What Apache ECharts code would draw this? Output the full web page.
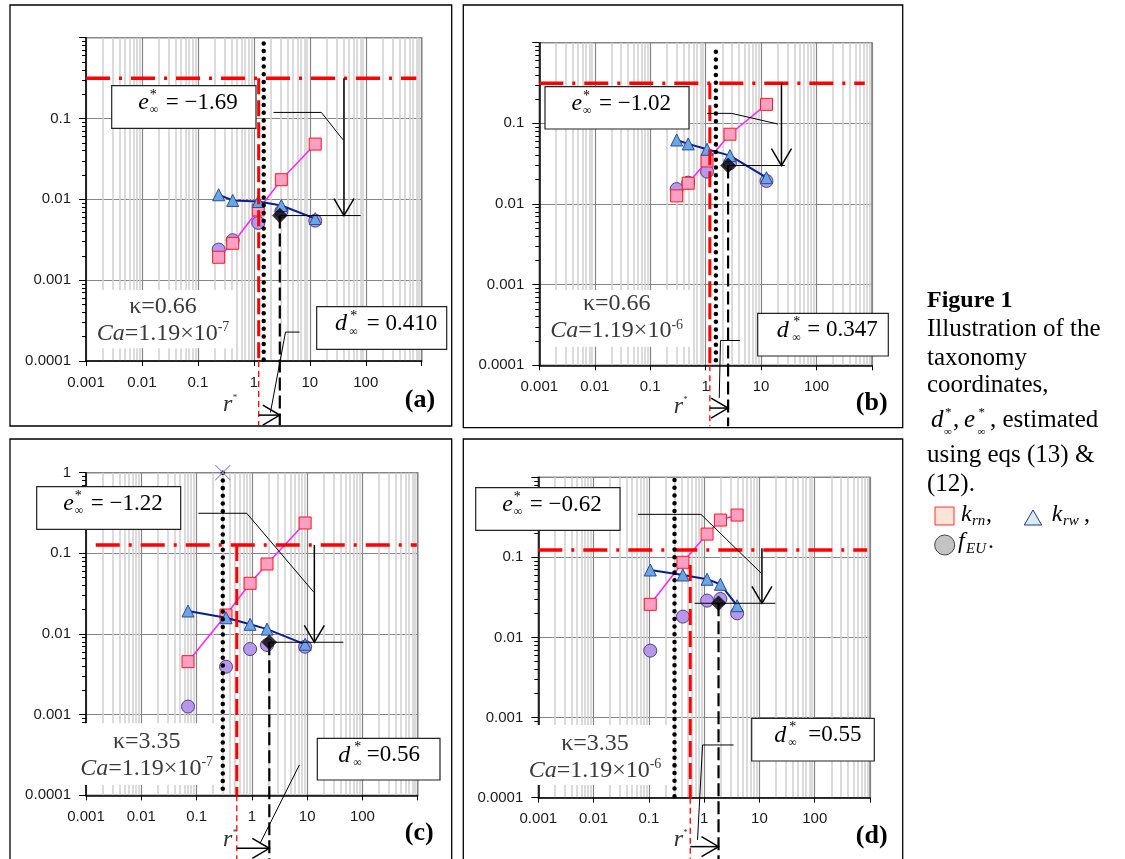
<!DOCTYPE html>
<html><head><meta charset="utf-8">
<script src="https://cdn.jsdelivr.net/npm/echarts@6/dist/echarts.min.js"></script>
<style>html,body{margin:0;padding:0;background:#fff}#c{width:1125px;height:859px}</style>
</head><body><div id="c"></div>
<script>
// ================= DATA =================
const panelLabels = ['(a)', '(b)', '(c)', '(d)'];
const xTickLabels = ['0.001', '0.01', '0.1', '1', '10', '100', ''];
const yTickLabels = ['0.0001', '0.001', '0.01', '0.1', '1'];
const showTopYLabel = [false, false, true, false];

// r values (x) for the five measurements of each panel
const rVals = [
  [0.235, 0.419, 1.2, 3.1, 12.5],
  [0.3, 0.484, 1.06, 2.74, 12.5],
  [0.07, 0.341, 0.93, 1.88, 9.2],
  [0.106, 0.413, 1.13, 1.97, 3.95]
];
const krnVals = [
  [0.00192, 0.00286, 0.0074, 0.0175, 0.0483],
  [0.0126, 0.0181, 0.0342, 0.0733, 0.172],
  [0.00454, 0.0172, 0.0425, 0.0738, 0.238],
  [0.0259, 0.0867, 0.195, 0.292, 0.337]
];
const krwVals = [
  [0.0114, 0.0097, 0.0094, 0.0084, 0.00578],
  [0.0622, 0.0556, 0.0478, 0.0398, 0.0212],
  [0.0193, 0.0159, 0.0132, 0.0115, 0.00745],
  [0.0695, 0.0602, 0.0532, 0.0461, 0.0249]
];
const feuVals = [
  [0.00239, 0.00312, 0.00511, 0.0071, 0.00545],
  [0.0153, 0.0184, 0.0252, 0.032, 0.0193],
  [0.00126, 0.00393, 0.00651, 0.0073, 0.00696],
  [0.00684, 0.0182, 0.0288, 0.0302, 0.0200]
];
const kappaText = ['0.66', '0.66', '3.35', '3.35'];
const caExp = ['-7', '-6', '-7', '-6'];
const eStarText = ['= \u22121.69', '= \u22121.02', '= \u22121.22', '= \u22120.62'];
const dStarText = ['= 0.410', '= 0.347', '=0.56', '=0.55'];

// taxonomy point (diamond) and construction lines, in data units
const taxPoint = [[2.91, 0.0063], [2.54, 0.030], [2.07, 0.0079], [1.82, 0.0267]];
const eLevel = [0.315, 0.314, 0.127, 0.123];
const eSpan = [[0.001, 800], [0.001, 740], [0.0015, 965], [0.001, 890]];
const redX = [1.22, 1.19, 0.534, 0.56];
const redTop = [0.315, 0.314, 0.127, 0.08];
const dotX = [1.5, 1.53, 0.298, 0.291];
const dotTop = [0.85, 0.77, 1.0, 0.92];
const hLineX = [[2.91, 81], [2.54, 26.7], [2.07, 45.3], [0.67, 19.4]];
const arrowX = [40.8, 23.3, 13.5, 11.1];
const arrowTop = [0.315, 0.314, 0.127, 0.13];
const eLeader = [
  [[2.25, 0.119], [16.1, 0.119], [39.2, 0.0546]],
  [[1.064, 0.133], [2.93, 0.133], [20.2, 0.098]],
  [[0.108, 0.314], [0.809, 0.314], [13.0, 0.0334]],
  [[0.0632, 0.344], [0.875, 0.344], [10.8, 0.0632]]
];
const dLeader = [
  [[6.56, 2.28e-4], [3.68, 2.28e-4], [1.98, 2.31e-5]],
  [[4.13, 2.03e-4], [1.85, 2.03e-4], [1.76, 3.92e-5]],
  [[7.24, 2.38e-4], [1.41, 2.54e-5]],
  [[3.41, 4.55e-4], [0.935, 4.55e-4], [0.759, 2.97e-5]]
];
const rArrowY = [2.14e-5, 2.95e-5, 2.2e-5, 2.45e-5];
const floorY = [1.6e-5, 1.75e-5, 1.5e-5, 1.5e-5];
const crossPt = [null, null, [0.298, 1.0], null];
const X_MIN = 0.001, X_MAX = 1000, Y_MIN = 0.0001, Y_MAX = 1;

// ================= LAYOUT =================
const gridBoxes = [[86, 37.7, 335.7, 323.3], [539.3, 42.7, 332.7, 322.6], [86, 472.7, 331.7, 322.6], [538.3, 477.2, 331.7, 320.5]];
const panelFrames = [[10, 5, 441.7, 421], [463.3, 5, 439.4, 422.7], [10, 439, 441.7, 430], [463.3, 439, 439.4, 430]];
const eBoxes = [[111.7, 85.7, 144.3, 42.6], [545, 86.7, 144, 42.3], [36.7, 486.7, 144, 42.6], [475.7, 487.7, 144.3, 42.6]];
const dBoxes = [[316.7, 306.7, 130, 42.6], [757.7, 313.3, 130.6, 42.7], [317.3, 738.3, 122.7, 41.7], [751.7, 718.3, 122.6, 42.7]];
const dBoxOff = [[18.3, 32.6, 50], [19, 34.6, 49.6], [21, 36, 49.4], [22.6, 36.6, 56.6]];
const kBg = [[91.7, 290, 141.3, 58.3], [546.7, 290, 145, 56.7], [78.3, 723.3, 141.7, 61.7], [526.7, 725, 141.6, 60]];
const kPos = [[163, 306.7], [616.7, 304], [146.7, 741.7], [595, 743.3]];
const labelPos = [[420, 400], [871.7, 403], [419.3, 833.3], [871.7, 836.7]];
const rLabelPos = [[227.7, 405], [678.3, 406.7], [227.7, 840], [678.3, 840]];

const SERIF = '"Liberation Serif", "Times New Roman", serif';
const SANS = '"Liberation Sans", Arial, sans-serif';

const STY = {
  redDashDot: { stroke: '#ff0000', w: 3.5, dash: [24, 9, 3, 9] },
  redDash: { stroke: '#ff0000', w: 3, dash: [16, 6] },
  redThin: { stroke: '#ff0000', w: 1.3, dash: [6, 4] },
  dots: { stroke: '#000', w: 4.5, dash: [0.01, 7.7], cap: 'round' },
  blackDash: { stroke: '#000', w: 2.2, dash: [13, 5] },
  thin: { stroke: '#000', w: 1 },
  arrow: { stroke: '#000', w: 1.5, head: true },
  cross: { stroke: '#9a8fd6', w: 1.2 }
};

function buildAnns(p) {
  const tx = taxPoint[p][0], ty = taxPoint[p][1];
  const A = [
    { kind: 'redDashDot', pts: [[eSpan[p][0], eLevel[p]], [eSpan[p][1], eLevel[p]]] },
    { kind: 'redDash', pts: [[redX[p], redTop[p]], [redX[p], Y_MIN]] },
    { kind: 'redThin', pts: [[redX[p], Y_MIN], [redX[p], floorY[p]]] },
    { kind: 'dots', pts: [[dotX[p], dotTop[p]], [dotX[p], Y_MIN]] },
    { kind: 'blackDash', pts: [[tx, ty], [tx, floorY[p]]] },
    { kind: 'thin', pts: [[hLineX[p][0], ty], [hLineX[p][1], ty]] },
    { kind: 'arrow', pts: [[arrowX[p], arrowTop[p]], [arrowX[p], ty]] },
    { kind: 'thin', pts: eLeader[p] },
    { kind: 'thin', pts: dLeader[p] },
    { kind: 'arrow', pts: [[redX[p], rArrowY[p]], [tx, rArrowY[p]]] }
  ];
  if (crossPt[p]) A.push({ kind: 'cross', pts: [crossPt[p]] });
  return A;
}

function makeRender(anns) {
  return function (params, api) {
    const a = anns[params.dataIndex];
    const s = STY[a.kind];
    const style = { stroke: s.stroke, lineWidth: s.w, fill: null, lineDash: s.dash || null, lineCap: s.cap || 'butt' };
    if (a.kind === 'cross') {
      const c = api.coord(a.pts[0]); const h = 7.5;
      return { type: 'group', children: [
        { type: 'line', shape: { x1: c[0] - h, y1: c[1] - h, x2: c[0] + h, y2: c[1] + h }, style: style },
        { type: 'line', shape: { x1: c[0] - h, y1: c[1] + h, x2: c[0] + h, y2: c[1] - h }, style: style }
      ] };
    }
    const pts = a.pts.map(q => api.coord(q));
    const ch = [{ type: 'polyline', shape: { points: pts }, style: style }];
    if (s.head) {
      const B = pts[pts.length - 1], A0 = pts[pts.length - 2];
      const dx = B[0] - A0[0], dy = B[1] - A0[1], L = Math.hypot(dx, dy);
      const ux = dx / L, uy = dy / L, len = 17, hw = 10;
      const bx = B[0] - ux * len, by = B[1] - uy * len;
      ch.push({ type: 'polyline', shape: { points: [[bx - uy * hw, by + ux * hw], [B[0], B[1]], [bx + uy * hw, by - ux * hw]] },
        style: { stroke: '#000', lineWidth: 1.5, fill: null } });
    }
    return { type: 'group', children: ch };
  };
}

const grids = [], xAxes = [], yAxes = [], series = [], gfx = [];

for (let p = 0; p < 4; p++) {
  const g = gridBoxes[p];
  grids.push({ left: g[0], top: g[1], width: g[2], height: g[3], show: true, borderColor: '#8a8a8a', borderWidth: 1.6,
    backgroundColor: 'rgba(0,0,0,0)', containLabel: false, outerBoundsMode: 'none' });
  xAxes.push({ gridIndex: p, type: 'log', logBase: 10, min: X_MIN, max: X_MAX, splitNumber: 6,
    axisLine: { show: true, onZero: false, lineStyle: { color: '#000', width: 1.5 } },
    axisTick: { show: true, length: 5, lineStyle: { color: '#000', width: 1 } },
    minorTick: { show: false, splitNumber: 9 },
    minorSplitLine: { show: true, lineStyle: { color: '#d2d2d2', width: 1.6 } },
    splitLine: { show: true, lineStyle: { color: '#858585', width: 1.2 } },
    axisLabel: { show: true, margin: 14, fontFamily: SANS, fontSize: 15, color: '#1a1a1a', showMinLabel: true, showMaxLabel: true,
      formatter: v => { const k = Math.round(Math.log10(v)) + 3; return xTickLabels[k] || ''; } }
  });
  yAxes.push({ gridIndex: p, type: 'log', logBase: 10, min: Y_MIN, max: Y_MAX, splitNumber: 4,
    axisLine: { show: true, onZero: false, lineStyle: { color: '#000', width: 1.5 } },
    axisTick: { show: true, length: 7, lineStyle: { color: '#000', width: 1 } },
    minorTick: { show: true, splitNumber: 9, length: 4, lineStyle: { color: '#000', width: 1 } },
    splitLine: { show: true, lineStyle: { color: '#858585', width: 1.2 } },
    minorSplitLine: { show: false },
    axisLabel: { show: true, margin: 15, fontFamily: SANS, fontSize: 15, color: '#1a1a1a', showMinLabel: true, showMaxLabel: true,
      formatter: v => { const k = Math.round(Math.log10(v)) + 4; if (k === 4 && !showTopYLabel[p]) return ''; return yTickLabels[k] || ''; } }
  });

  const pts = arr => rVals[p].map((r, i) => [r, arr[p][i]]);
  series.push({ type: 'scatter', xAxisIndex: p, yAxisIndex: p, z: 3, symbol: 'circle', symbolSize: 13, silent: true,
    itemStyle: { color: '#b598ec', borderColor: '#55407a', borderWidth: 1, opacity: 1 }, data: pts(feuVals) });
  series.push({ type: 'line', xAxisIndex: p, yAxisIndex: p, z: 4, symbol: 'rect', symbolSize: 12, showSymbol: true, silent: true,
    lineStyle: { color: '#ff22ff', width: 1.5 }, itemStyle: { color: '#fb9fc4', borderColor: '#ff1a1a', borderWidth: 1 }, data: pts(krnVals) });
  series.push({ type: 'line', xAxisIndex: p, yAxisIndex: p, z: 5, symbol: 'triangle', symbolSize: 12, showSymbol: true, silent: true,
    lineStyle: { color: '#0a1f8f', width: 2 }, itemStyle: { color: '#6ba6e0', borderColor: '#2b4aa0', borderWidth: 1 }, data: pts(krwVals) });
  const anns = buildAnns(p);
  series.push({ type: 'custom', xAxisIndex: p, yAxisIndex: p, z: 6, silent: true, clip: false,
    renderItem: makeRender(anns), data: anns.map(a => a.pts[0]) });
  series.push({ type: 'scatter', xAxisIndex: p, yAxisIndex: p, z: 8, symbol: 'diamond', symbolSize: 15, silent: true,
    itemStyle: { color: '#000', borderColor: '#000', borderWidth: 0.5 }, data: [taxPoint[p]] });

  // frame
  const f = panelFrames[p];
  gfx.push({ type: 'rect', z: 30, silent: true, shape: { x: f[0], y: f[1], width: f[2], height: f[3] }, style: { fill: null, stroke: '#000', lineWidth: 1.3 } });
  // kappa / Ca text
  const kb = kBg[p];
  gfx.push({ type: 'rect', z: 1, silent: true, shape: { x: kb[0], y: kb[1], width: kb[2], height: kb[3] }, style: { fill: '#fff', stroke: null } });
  gfx.push({ type: 'text', z: 30, silent: true, x: kPos[p][0], y: kPos[p][1],
    style: { text: '\u03ba=' + kappaText[p], fontFamily: SERIF, fontSize: 24, fill: '#3a3a3a', align: 'center', verticalAlign: 'middle' } });
  gfx.push({ type: 'text', z: 30, silent: true, x: kPos[p][0], y: kPos[p][1] + 27,
    style: { text: '{i|Ca}{n|=1.19\u00d710}{s|' + caExp[p] + '}', align: 'center', verticalAlign: 'middle', fill: '#3a3a3a',
      rich: { i: { fontFamily: SERIF, fontSize: 24, fontStyle: 'italic', fill: '#3a3a3a', lineHeight: 26 },
              n: { fontFamily: SERIF, fontSize: 24, fill: '#3a3a3a', lineHeight: 26 },
              s: { fontFamily: SERIF, fontSize: 14, fill: '#3a3a3a', verticalAlign: 'top', lineHeight: 26 } } } });
  // e* box
  const eb = eBoxes[p];
  gfx.push({ type: 'group', x: eb[0], y: eb[1], z: 30, silent: true, children: [
    { type: 'rect', z: 30, shape: { x: 0, y: 0, width: eb[2], height: eb[3] }, style: { fill: '#fff', stroke: '#222', lineWidth: 1.2 } },
    { type: 'text', z: 31, x: 26.5, y: 17, style: { text: 'e', fontFamily: SERIF, fontSize: 24, fontStyle: 'italic', fill: '#000', align: 'left', verticalAlign: 'middle' } },
    { type: 'text', z: 31, x: 38, y: 9.5, style: { text: '*', fontFamily: SERIF, fontSize: 14, fill: '#000', align: 'left', verticalAlign: 'middle' } },
    { type: 'text', z: 31, x: 38, y: 24.5, style: { text: '\u221e', fontFamily: SERIF, fontSize: 12, fill: '#000', align: 'left', verticalAlign: 'middle' } },
    { type: 'text', z: 31, x: 54, y: 17, style: { text: eStarText[p], fontFamily: SERIF, fontSize: 23, fill: '#000', align: 'left', verticalAlign: 'middle' } }
  ] });
  // d* box
  const db = dBoxes[p], dof = dBoxOff[p];
  gfx.push({ type: 'group', x: db[0], y: db[1], z: 30, silent: true, children: [
    { type: 'rect', z: 30, shape: { x: 0, y: 0, width: db[2], height: db[3] }, style: { fill: '#fff', stroke: '#222', lineWidth: 1.2 } },
    { type: 'text', z: 31, x: dof[0], y: 17, style: { text: 'd', fontFamily: SERIF, fontSize: 24, fontStyle: 'italic', fill: '#000', align: 'left', verticalAlign: 'middle' } },
    { type: 'text', z: 31, x: dof[1] + 1, y: 9.5, style: { text: '*', fontFamily: SERIF, fontSize: 14, fill: '#000', align: 'left', verticalAlign: 'middle' } },
    { type: 'text', z: 31, x: dof[1], y: 25, style: { text: '\u221e', fontFamily: SERIF, fontSize: 12, fill: '#000', align: 'left', verticalAlign: 'middle' } },
    { type: 'text', z: 31, x: dof[2], y: 17, style: { text: dStarText[p], fontFamily: SERIF, fontSize: 23, fill: '#000', align: 'left', verticalAlign: 'middle' } }
  ] });
  // panel label and r label
  gfx.push({ type: 'text', z: 30, silent: true, x: labelPos[p][0], y: labelPos[p][1],
    style: { text: panelLabels[p], fontFamily: SERIF, fontSize: 26, fontWeight: 'bold', fill: '#000', align: 'center', verticalAlign: 'middle' } });
  gfx.push({ type: 'text', z: 30, silent: true, x: rLabelPos[p][0], y: rLabelPos[p][1],
    style: { text: 'r', fontFamily: SERIF, fontSize: 24, fontStyle: 'italic', fill: '#333', align: 'center', verticalAlign: 'middle' } });
  gfx.push({ type: 'text', z: 30, silent: true, x: rLabelPos[p][0] + 5, y: rLabelPos[p][1] - 7,
    style: { text: '*', fontFamily: SERIF, fontSize: 9, fill: '#333', align: 'left', verticalAlign: 'middle' } });
}

// caption
function ct(text, x, y, extra) {
  return Object.assign({ type: 'text', z: 30, silent: true, x: x, y: y,
    style: Object.assign({ text: text, fontFamily: SERIF, fontSize: 25, fill: '#000', align: 'left', verticalAlign: 'middle' }, extra || {}) });
}
const capX = 927;
gfx.push(ct('Figure 1', capX, 301, { fontWeight: 'bold', fontSize: 24 }));
gfx.push(ct('Illustration of the', capX, 329));
gfx.push(ct('taxonomy', capX, 358));
gfx.push(ct('coordinates,', capX, 385.5));
gfx.push(ct('d', 931, 420.5, { fontStyle: 'italic' }));
gfx.push(ct('*', 945, 413, { fontSize: 13 }));
gfx.push(ct('\u221e', 944, 432, { fontSize: 11 }));
gfx.push(ct(',', 953, 420.5));
gfx.push(ct('e', 964, 420.5, { fontStyle: 'italic' }));
gfx.push(ct('*', 978.5, 413, { fontSize: 13 }));
gfx.push(ct('\u221e', 977.5, 432, { fontSize: 11 }));
gfx.push(ct(', estimated', 990, 420.5));
gfx.push(ct('using eqs (13) &', capX, 455.5));
gfx.push(ct('(12).', capX, 484.5));
// legend
gfx.push({ type: 'rect', z: 30, silent: true, shape: { x: 935, y: 507, width: 19, height: 18 }, style: { fill: '#fce4d6', stroke: '#ff3030', lineWidth: 1 } });
gfx.push(ct('k', 961, 514.5, { fontStyle: 'italic', fontSize: 24 }));
gfx.push(ct('rn', 972, 521, { fontStyle: 'italic', fontSize: 15 }));
gfx.push(ct(',', 986, 514.5, { fontSize: 24 }));
gfx.push({ type: 'polygon', z: 30, silent: true, shape: { points: [[1024.3, 525], [1033, 510], [1041.7, 525]] }, style: { fill: '#d9ebf5', stroke: '#1f3a80', lineWidth: 1 } });
gfx.push(ct('k', 1051.7, 514.5, { fontStyle: 'italic', fontSize: 24 }));
gfx.push(ct('rw', 1063, 521, { fontStyle: 'italic', fontSize: 15 }));
gfx.push(ct(',', 1084, 514.5, { fontSize: 24 }));
gfx.push({ type: 'circle', z: 30, silent: true, shape: { cx: 944.7, cy: 545, r: 10 }, style: { fill: '#c3c3c3', stroke: '#444', lineWidth: 1 } });
gfx.push(ct('f', 958, 542, { fontStyle: 'italic', fontSize: 24 }));
gfx.push(ct('EU', 966, 549, { fontStyle: 'italic', fontSize: 15 }));
gfx.push(ct('.', 988, 542, { fontSize: 24 }));

const chart = echarts.init(document.getElementById('c'), null, { renderer: 'canvas' });
chart.setOption({
  animation: false,
  backgroundColor: '#fff',
  grid: grids, xAxis: xAxes, yAxis: yAxes, series: series,
  graphic: { elements: gfx }
});
</script>
</body></html>
